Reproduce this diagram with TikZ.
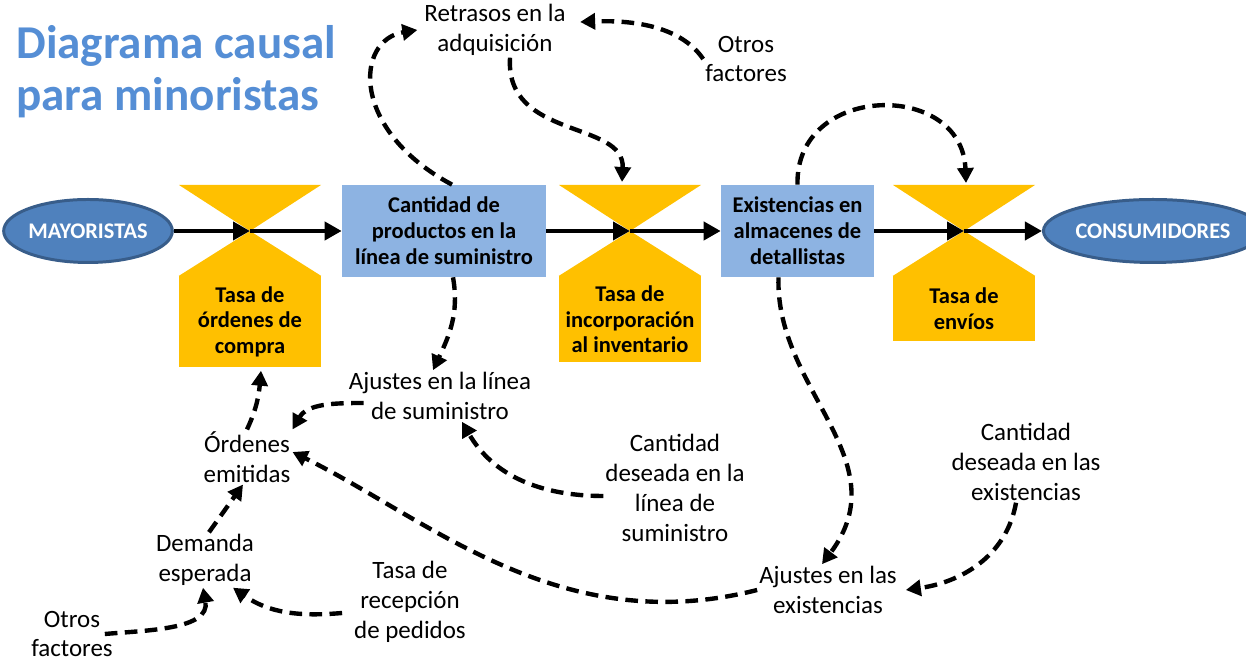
\documentclass[tikz,border=0pt]{standalone}
\usepackage{fontspec}
\setmainfont{Carlito}
\usetikzlibrary{arrows.meta,shapes.geometric}
\definecolor{valveC}{HTML}{FFC000}
\definecolor{stockC}{HTML}{8DB3E2}
\definecolor{cloudF}{HTML}{4F81BD}
\definecolor{cloudL}{HTML}{385D8A}
\definecolor{titleC}{HTML}{558ED5}

\begin{document}
\begin{tikzpicture}[
  lbl/.style={align=center,inner sep=1pt,font=\fontsize{14.2}{17}\selectfont},
  stock/.style={fill=stockC,align=center,inner sep=2pt,minimum height=1.84cm,
                font=\fontsize{12.8}{14.7}\selectfont\bfseries},
  valve/.style={fill=valveC,align=center,inner sep=2pt,minimum width=2.84cm,
                font=\fontsize{12.8}{14.7}\selectfont\bfseries},
  cloud/.style={ellipse,draw=cloudL,line width=1.7pt,fill=cloudF,text=white,
                minimum height=1.26cm,inner sep=0pt,
                font=\fontsize{12.7}{14}\selectfont\bfseries},
  flow/.style={line width=2.3pt,-{Triangle[length=0.34cm,width=0.36cm]}},
  link/.style={line width=2.5pt,dash pattern=on 7.2pt off 4.2pt,
               -{Triangle[length=0.3cm,width=0.32cm]}},
]
\useasboundingbox (0,0) rectangle (24.92,13.32);

% ---- title ----------------------------------------------------------------
\node[anchor=west,align=left,inner sep=0pt,text=titleC,
      font=\fontsize{26.8}{29.5}\selectfont\bfseries] (title) at (0.32,11.88)
      {Diagrama causal\\para minoristas};

% ---- stocks and sources (flow line) ---------------------------------------
\node[cloud,minimum width=3.34cm] (may)  at (1.76,8.70)  {MAYORISTAS};
\node[stock,minimum width=4.08cm] (stA)  at (8.88,8.70)  {Cantidad de\\productos en la\\línea de suministro};
\node[stock,minimum width=3.06cm] (stB)  at (15.95,8.70) {Existencias en\\almacenes de\\detallistas};
\node[cloud,minimum width=3.72cm] (cons) at (23.06,8.70) {CONSUMIDORES};

% ---- valves ---------------------------------------------------------------
\coordinate (v1) at (5.00,8.70);
\coordinate (v2) at (12.60,8.70);
\coordinate (v3) at (19.28,8.70);
\node[valve,anchor=north,minimum height=1.82cm] (tOrd) at (5.00,7.80)  {Tasa de\\órdenes de\\compra};
\node[valve,anchor=north,minimum height=1.72cm] (tInc) at (12.60,7.80) {Tasa de\\incorporación\\al inventario};
\node[valve,anchor=north,minimum height=1.30cm] (tEnv) at (19.28,7.80) {Tasa de\\envíos};

\fill[valveC] (v1) -- (tOrd.north west) -- (tOrd.north east) -- cycle;
\fill[valveC] (v1) -- ++(-1.42,0.92) -- ++(2.84,0) -- cycle;
\fill[valveC] (v2) -- (tInc.north west) -- (tInc.north east) -- cycle;
\fill[valveC] (v2) -- ++(-1.42,0.92) -- ++(2.84,0) -- cycle;
\fill[valveC] (v3) -- (tEnv.north west) -- (tEnv.north east) -- cycle;
\fill[valveC] (v3) -- ++(-1.42,0.92) -- ++(2.84,0) -- cycle;

\draw[flow] (may) -- (v1);
\draw[flow] (v1)  -- (stA);
\draw[flow] (stA) -- (v2);
\draw[flow] (v2)  -- (stB);
\draw[flow] (stB) -- (v3);
\draw[flow] (v3)  -- (cons);

% ---- auxiliary variables --------------------------------------------------
\node[lbl] (ret) at (9.90,12.72)  {Retrasos en la\\adquisición};
\node[lbl] (otA) at (14.92,12.14) {Otros\\factores};
\node[lbl] (ajL) at (8.80,5.40)   {Ajustes en la línea\\de suministro};
\node[lbl] (ord) at (4.94,4.18)   {Órdenes\\emitidas};
\node[lbl] (cdL) at (13.50,3.56)  {Cantidad\\deseada en la\\línea de\\suministro};
\node[lbl] (cdE) at (20.52,4.08)  {Cantidad\\deseada en las\\existencias};
\node[lbl] (dem) at (4.10,2.12)   {Demanda\\esperada};
\node[lbl] (rec) at (8.20,1.28)   {Tasa de\\recepción\\de pedidos};
\node[lbl] (ajE) at (16.56,1.52)  {Ajustes en las\\existencias};
\node[lbl] (otB) at (1.44,0.64)   {Otros\\factores};

% ---- causal links ---------------------------------------------------------
\draw[link] ([xshift=0.16cm]stA.north) .. controls (7.00,10.72) and (7.10,12.52) .. ([xshift=-0.1cm]ret.west);
\draw[link] (otA.west) .. controls (13.6,12.82) and (12.6,12.92) .. ([xshift=0.25cm,yshift=0.16cm]ret.east);
\draw[link] ([xshift=0.3cm]ret.south) .. controls (10.10,10.52) and (12.50,10.92) .. ([shift={(-0.16,0.98)}]v2);
\draw[link] (stB.north) .. controls (15.90,11.66) and (19.24,11.72) .. ([shift={(0.04,0.96)}]v3);
\draw[link] ([xshift=0.18cm]stA.south) to[out=-80,in=65] ([xshift=-0.14cm]ajL.north);
\draw[link] ([xshift=0.34cm,yshift=-0.14cm]ajL.west) to[out=180,in=60] (ord.north east);
\draw[link] (ord.north) to[out=65,in=-95] ([xshift=0.22cm,yshift=-0.06cm]tOrd.south);
\draw[link] ([xshift=0.08cm]dem.north) -- ([xshift=-0.08cm]ord.south);
\draw[link] ([xshift=-0.2cm]otB.east) to[out=5,in=-80] ([xshift=-0.04cm]dem.south);
\draw[link] ([xshift=-0.2cm,yshift=-0.22cm]rec.west) to[out=185,in=-35] ([xshift=0.56cm]dem.south);
\draw[link] ([yshift=-0.16cm]cdL.west) to[out=180,in=-60] ([xshift=0.44cm]ajL.south);
\draw[link] ([xshift=-0.38cm]stB.south) .. controls (15.50,5.52) and (18.00,4.12) .. ([xshift=-0.12cm]ajE.north);
\draw[link] (ajE.west) .. controls (11.20,0.52) and (8.60,2.92) .. ([yshift=0.1cm]ord.east);
\draw[link] ([xshift=-0.2cm]cdE.south) to[out=-100,in=8] ([xshift=0.14cm]ajE.east);

\end{tikzpicture}
\end{document}
